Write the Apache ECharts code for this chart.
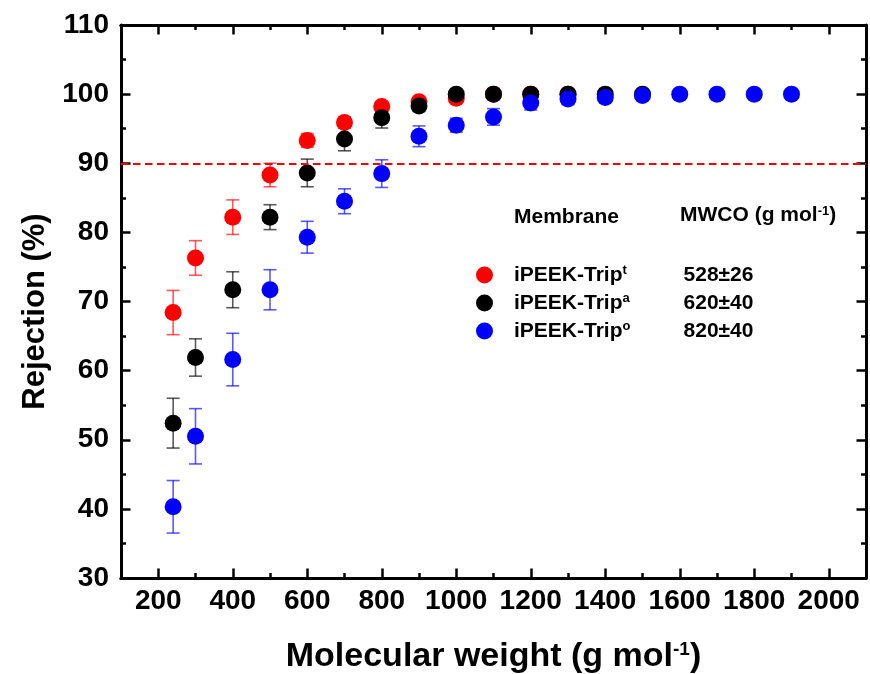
<!DOCTYPE html>
<html>
<head>
<meta charset="utf-8">
<script src="https://cdn.jsdelivr.net/npm/echarts@6/dist/echarts.min.js"></script>
<style>
html, body { margin: 0; padding: 0; background: #fff; }
#chart { width: 870px; height: 674px; }
</style>
</head>
<body>
<div id="chart"></div>
<script>
// data
var xRed = [240, 300, 400, 500, 600, 700, 800, 900, 1000, 1100, 1200, 1300];
var yRed = [68.4, 76.3, 82.2, 88.3, 93.3, 95.9, 98.2, 98.9, 99.4, 100, 100, 100];
var eRed = [3.2, 2.5, 2.5, 1.7, 1.0, 0.8, 0.7, 0.5, 0.5, 0.3, 0.2, 0.1];

var xBlack = [240, 300, 400, 500, 600, 700, 800, 900, 1000, 1100, 1200, 1300, 1400, 1500];
var yBlack = [52.4, 61.9, 71.7, 82.2, 88.6, 93.5, 96.6, 98.3, 100, 100, 100, 100, 100, 100];
var eBlack = [3.6, 2.7, 2.6, 1.8, 2.0, 1.7, 1.5, 0.8, 0.4, 0.3, 0.3, 0.2, 0.2, 0.1];

var xBlue = [240, 300, 400, 500, 600, 700, 800, 900, 1000, 1100, 1200, 1300, 1400, 1500, 1600, 1700, 1800, 1900];
var yBlue = [40.3, 50.5, 61.6, 71.7, 79.3, 84.5, 88.5, 93.9, 95.5, 96.7, 98.7, 99.3, 99.5, 99.8, 100, 100, 100, 100];
var eBlue = [3.8, 4.0, 3.8, 2.9, 2.3, 1.8, 2.0, 1.5, 1.0, 1.2, 1.0, 0.8, 0.5, 0.3, 0.2, 0.2, 0.2, 0.2];

var seriesNames = ['iPEEK-Trip t', 'iPEEK-Trip a', 'iPEEK-Trip o'];
var legendLabels = ['iPEEK-Trip', 'iPEEK-Trip', 'iPEEK-Trip'];
var legendSups = ['t', 'a', 'o'];
var mwcoValues = ['528±26', '620±40', '820±40'];

var xTicks = [200, 400, 600, 800, 1000, 1200, 1400, 1600, 1800, 2000];
var xMinorTicks = [300, 500, 700, 900, 1100, 1300, 1500, 1700, 1900];
var cutoff = 90;

var font = '"Liberation Sans", Arial, sans-serif';

function points(xs, ys) {
	return xs.map(function (x, i) { return [x, ys[i]]; });
}
function errs(xs, ys, es) {
	return xs.map(function (x, i) { return [x, ys[i] - es[i], ys[i] + es[i]]; });
}
function errRender(color) {
	return function (params, api) {
		var x = api.value(0);
		var top = api.coord([x, api.value(2)]);
		var bot = api.coord([x, api.value(1)]);
		var w = 6.5;
		var st = { stroke: color, lineWidth: 1.6, opacity: 0.65 };
		return {
			type: 'group',
			children: [
				{ type: 'line', shape: { x1: top[0], y1: top[1], x2: bot[0], y2: bot[1] }, style: st },
				{ type: 'line', shape: { x1: top[0] - w, y1: top[1], x2: top[0] + w, y2: top[1] }, style: st },
				{ type: 'line', shape: { x1: bot[0] - w, y1: bot[1], x2: bot[0] + w, y2: bot[1] }, style: st }
			]
		};
	};
}

var colors = ['#ff0000', '#000000', '#0000ff'];
var xs = [xRed, xBlack, xBlue];
var ys = [yRed, yBlack, yBlue];
var es = [eRed, eBlack, eBlue];

var series = [];
for (var i = 0; i < 3; i++) {
	series.push({
		type: 'custom',
		renderItem: errRender(colors[i]),
		data: errs(xs[i], ys[i], es[i]),
		encode: { x: 0, y: [1, 2] },
		silent: true
	});
	var s = {
		name: seriesNames[i],
		type: 'scatter',
		symbol: 'circle',
		symbolSize: 17,
		itemStyle: { color: colors[i], opacity: 1 },
		data: points(xs[i], ys[i])
	};
	if (i === 0) {
		s.markLine = {
			silent: true,
			symbol: 'none',
			label: { show: false },
			lineStyle: { color: '#ff0000', type: [7.5, 4.5], width: 2 },
			data: [{ yAxis: cutoff }]
		};
	}
	series.push(s);
}

var axisLine = { show: true, lineStyle: { color: '#000', width: 3 } };

function xAxisDef(pos, ticks, len, labels) {
	return {
		type: 'value', position: pos, min: 100, max: 2100,
		axisLine: axisLine,
		axisTick: { show: true, inside: true, length: len, customValues: ticks, lineStyle: { color: '#000', width: 2.5 } },
		axisLabel: labels ? {
			show: true, customValues: ticks, margin: 9,
			color: '#000', fontSize: 28, fontWeight: 'bold', fontFamily: font,
			formatter: function (v) { return String(v); }
		} : { show: false },
		splitLine: { show: false }
	};
}
function yAxisDef(pos, labels) {
	return {
		type: 'value', position: pos, min: 30, max: 110, interval: 10,
		axisLine: axisLine,
		axisTick: { show: true, inside: true, length: 9.5, lineStyle: { color: '#000', width: 2.5 } },
		minorTick: { show: true, splitNumber: 2, length: 5, lineStyle: { color: '#000', width: 2.5 } },
		axisLabel: labels ? {
			show: true, margin: 12,
			color: '#000', fontSize: 28, fontWeight: 'bold', fontFamily: font
		} : { show: false },
		splitLine: { show: false }
	};
}

var xMain = xAxisDef('bottom', xTicks, 9.5, true);
xMain.name = 'Molecular weight (g mol{s|-1})';
xMain.nameLocation = 'middle';
xMain.nameGap = 62;
xMain.nameTextStyle = {
	color: '#000', fontSize: 34, fontWeight: 'bold', fontFamily: font,
	rich: { s: { fontSize: 19, fontWeight: 'bold', fontFamily: font, color: '#000', verticalAlign: 'top', lineHeight: 15 } }
};

var yMain = yAxisDef('left', true);
yMain.name = 'Rejection (%)';
yMain.nameLocation = 'middle';
yMain.nameGap = 70;
yMain.nameTextStyle = { color: '#000', fontSize: 31, fontWeight: 'bold', fontFamily: font, padding: [0, 20, 0, 0] };

var legendRich = {
	n: { fontSize: 21, fontWeight: 'bold', fontFamily: font, color: '#000', lineHeight: 22, padding: [0, 0, 0, 16] },
	s: { fontSize: 13, fontWeight: 'bold', fontFamily: font, color: '#000', lineHeight: 12, verticalAlign: 'top', width: 56 },
	v: { fontSize: 21, fontWeight: 'bold', fontFamily: font, color: '#000', lineHeight: 22, width: 80, align: 'center' }
};

var myChart = echarts.init(document.getElementById('chart'));
var option = {
	backgroundColor: '#fff',
	animation: false,
	grid: { left: 121, right: 4, top: 25, bottom: 96, containLabel: false, outerBoundsMode: 'none' },
	xAxis: [
		xMain,
		xAxisDef('top', xTicks, 9.5, false),
		xAxisDef('bottom', xMinorTicks, 5, false),
		xAxisDef('top', xMinorTicks, 5, false)
	],
	yAxis: [yMain, yAxisDef('right', false)],
	legend: {
		orient: 'vertical', left: 476, top: 264, padding: 0,
		itemWidth: 17, itemHeight: 17, itemGap: 6.5, icon: 'circle',
		data: seriesNames,
		formatter: function (name) {
			var i = seriesNames.indexOf(name);
			return '{n|' + legendLabels[i] + '}{s|' + legendSups[i] + '}{v|' + mwcoValues[i] + '}';
		},
		textStyle: { rich: legendRich }
	},
	graphic: [
		{ type: 'text', left: 514, top: 207, silent: true,
		  style: { text: 'Membrane', font: 'bold 21px ' + font, fill: '#000' } },
		{ type: 'text', left: 680, top: 205, silent: true,
		  style: {
			text: 'MWCO (g mol{s|-1})', font: 'bold 21px ' + font, fill: '#000',
			rich: { s: { fontSize: 13, fontWeight: 'bold', fontFamily: font, fill: '#000', color: '#000', verticalAlign: 'top', lineHeight: 10 } }
		  } }
	],
	series: series
};
myChart.setOption(option);
</script>
</body>
</html>
